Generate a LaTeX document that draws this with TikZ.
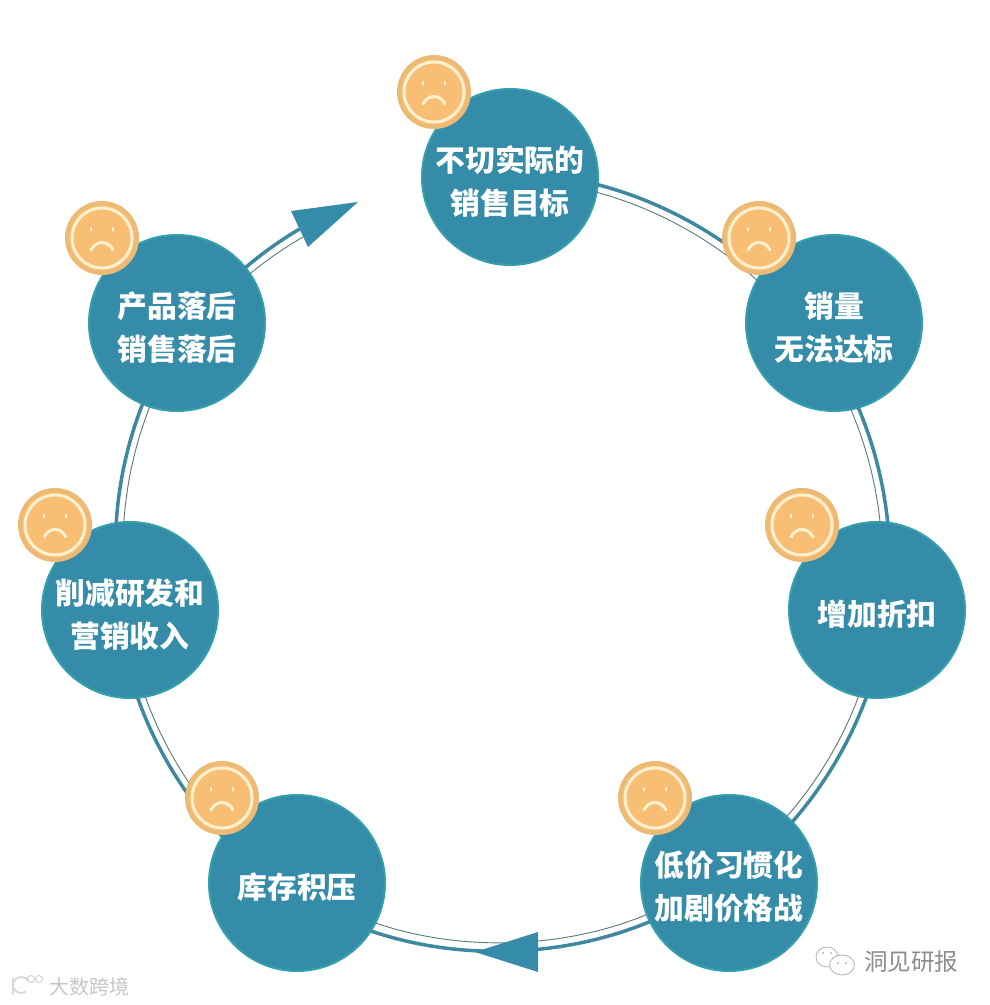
\documentclass[tikz,border=0pt]{standalone}
\usepackage{fontspec}
\newfontfamily\cjk{Noto Sans CJK SC}
\usetikzlibrary{shapes}
\definecolor{teal1}{RGB}{52, 140, 168}
\definecolor{teal2}{RGB}{52, 160, 172}
\definecolor{line1}{RGB}{62, 136, 160}
\definecolor{line2}{RGB}{90, 120, 125}
\definecolor{orange1}{RGB}{247, 190, 116}
\definecolor{orange2}{RGB}{236, 186, 116}
\definecolor{cream}{RGB}{255, 240, 208}
\tikzset{
  stage/.style={circle, draw=teal2, fill=teal1, line width=2pt, inner sep=0pt, outer sep=0pt, minimum size=176pt, text=white, align=center, font=\cjk\bfseries\fontsize{29.8}{43}\selectfont, execute at begin node={\rule{0pt}{34pt}}},
  twoline/.style={execute at begin node={\rule{0pt}{77pt}}},
  sadface/.style={circle, draw=orange2, fill=orange1, line width=4pt, inner sep=0pt, minimum size=70pt, path picture={
    \begin{scope}[shift={(path picture bounding box.center)}]
      \draw[cream, line width=3pt] (0,0) circle (30);
      \draw[cream, line width=2.6pt, line cap=round] (-11,7.5) -- (-11,10) (11,7.5) -- (11,10);
      \draw[cream, line width=3pt, line cap=round] (-11,-12) .. controls (-6,-2) and (6,-2) .. (11,-12);
    \end{scope}}},
  ringthick/.style={draw=line1, line width=3.5pt, bend left=#1, looseness=0.85},
  ringthin/.style={draw=line2, line width=0.9pt, bend left=#1, looseness=0.85},
  arrowhead/.style={fill=teal1},
  stamp/.style={text=gray!45, font=\cjk\fontsize{20}{20}\selectfont},
  brand/.style={text=gray!90, font=\cjk\fontsize{23.5}{24}\selectfont}
}
\begin{document}
\begin{tikzpicture}[x=1pt, y=1pt]
      %
      \useasboundingbox (0,0) rectangle (989,1005);
      %
      % the seven stages
      %
      \node[stage, twoline] (target) at (510,828) {不切实际的\\销售目标};
      \node[stage, twoline] (volume) at (834,682) {销量\\无法达标};
      \node[stage] (discount) at (877,395) {增加折扣};
      \node[stage, twoline] (habit) at (729,122) {低价习惯化\\加剧价格战};
      \node[stage] (stock) at (297,122) {库存积压};
      \node[stage, twoline] (budget) at (130,395) {削减研发和\\营销收入};
      \node[stage, twoline] (lag) at (177,682) {产品落后\\销售落后};
      %
      % target --> volume
      %
      \path[ringthick=13.6] (target.-5.7) to (volume.145.9);
      \path[ringthin=13.7] (target.-10.9) to (volume.151.1);
      %
      % volume --> discount
      %
      \path[ringthick=8.6] (volume.-74.6) to (discount.83.4);
      \path[ringthin=8.6] (volume.-79.8) to (discount.88.6);
      %
      % discount --> habit
      %
      \path[ringthick=10.5] (discount.-97.6) to (habit.44.6);
      \path[ringthin=10.4] (discount.-102.8) to (habit.49.7);
      %
      % habit --> stock
      %
      \path[ringthick=20.9] (habit.206.7) to (stock.-33);
      \path[ringthin=20.7] (habit.201.6) to (stock.-27.7);
      \coordinate (tip1) at (475,53);
      \coordinate (base1a) at (538,73);
      \coordinate (base1b) at (538,33);
      \path[arrowhead] (tip1) -- (base1a) -- (base1b) -- cycle;
      %
      % stock --> budget
      %
      \path[ringthick=12] (stock.148.3) to (budget.-85.5);
      \path[ringthin=11.8] (stock.143.1) to (budget.-80.3);
      %
      % budget --> lag
      %
      \path[ringthick=9] (budget.99.7) to (lag.247.4);
      \path[ringthin=8.9] (budget.94.5) to (lag.252.6);
      %
      % lag --> back to target
      %
      \coordinate (end1) at (299.5,776);
      \coordinate (end2) at (303,768);
      \path[ringthick=4.8] (lag.39.3) to (end1);
      \path[ringthin=4.8] (lag.34.1) to (end2);
      \coordinate (tip2) at (358,803);
      \coordinate (base2a) at (291,794);
      \coordinate (base2b) at (308,758);
      \path[arrowhead] (tip2) -- (base2a) -- (base2b) -- cycle;
      %
      % sad faces
      %
      \node[sadface] (face1) at (434,913) {};
      \node[sadface] (face2) at (759,767) {};
      \node[sadface] (face3) at (802,480) {};
      \node[sadface] (face4) at (655,207) {};
      \node[sadface] (face5) at (222,207) {};
      \node[sadface] (face6) at (55,480) {};
      \node[sadface] (face7) at (102,767) {};
      %
      % corner marks
      %
      \node[stamp] (markleft) at (89,18) {大数跨境};
      \draw[gray!30, line width=1.8pt] (13,27) -- (13,10);
      \draw[gray!30, line width=1.8pt] (28,24) arc[start angle=30, end angle=310, radius=8];
      \draw[gray!30, line width=1.2pt] (31,26) circle (3.5) (39,26) circle (3.5);
      \node[brand] (markright) at (911,43) {洞见研报};
      \draw[gray!70, line width=0.7pt] (827,48) ellipse (11 and 10);
      \draw[gray!70, line width=0.7pt, fill=white] (842,40) ellipse (12.5 and 10);
      \fill[gray!70] (823,52) circle (1) (831,52) circle (1) (838,42) circle (1) (846,42) circle (1);
      %
    \end{tikzpicture}
\end{document}
